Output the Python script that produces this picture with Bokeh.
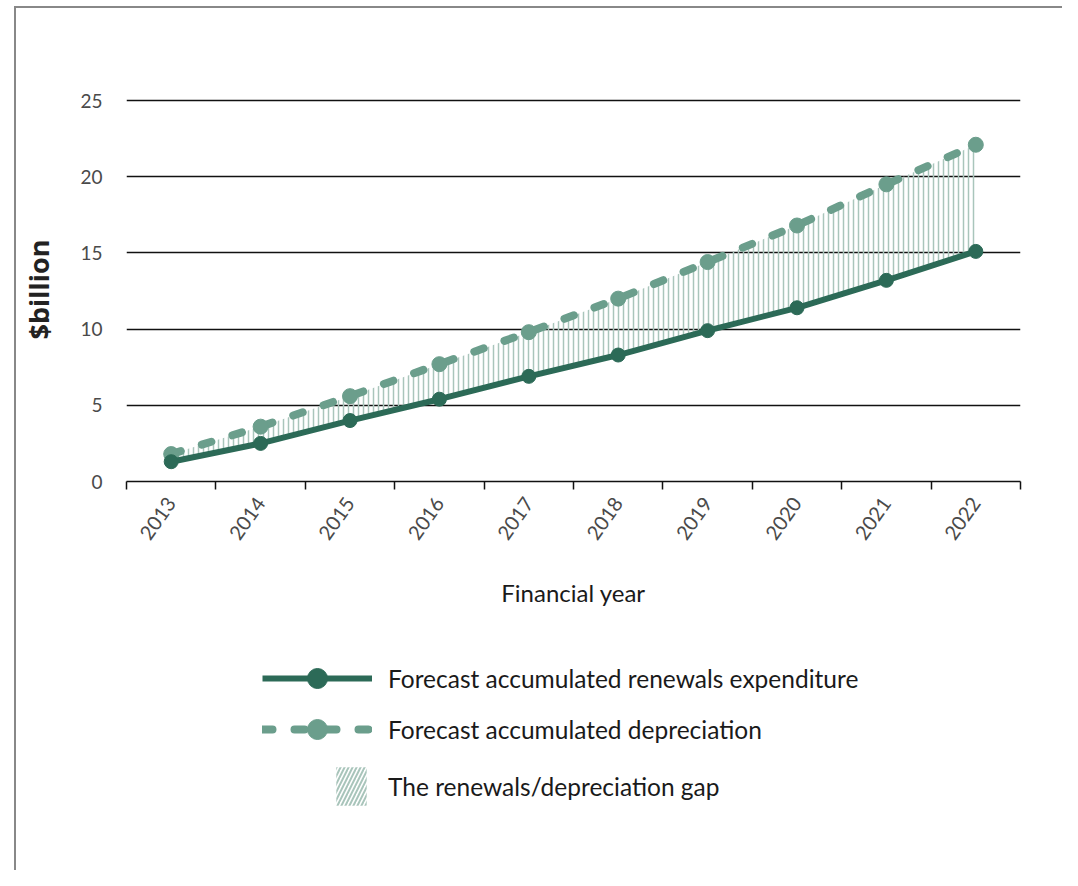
from math import pi
from bokeh.plotting import figure
from bokeh.layouts import column
from bokeh.models import ColumnDataSource, FixedTicker, Legend, LegendItem, Range1d
from bokeh.embed import file_html
from bokeh.resources import INLINE

years = [2013, 2014, 2015, 2016, 2017, 2018, 2019, 2020, 2021, 2022]
renewals = [1.3, 2.5, 4.0, 5.4, 6.9, 8.3, 9.9, 11.4, 13.2, 15.1]
depreciation = [1.8, 3.6, 5.6, 7.7, 9.8, 12.0, 14.4, 16.8, 19.5, 22.1]
y_ticks = [0, 5, 10, 15, 20, 25]

label_renewals = "Forecast accumulated renewals expenditure"
label_depr = "Forecast accumulated depreciation"
label_gap = "The renewals/depreciation gap"

DARK = "#2c6a57"
LIGHT = "#6b9e8c"
HATCH = "#a9c5bb"
FONT = "Lato"

REN_LINE = dict(line_color=DARK, line_width=6)
REN_PTS = dict(fill_color=DARK, line_color=DARK)
DEP_LINE = dict(line_color=LIGHT, line_width=8, line_dash="10 22", line_cap="round")
DEP_PTS = dict(fill_color=LIGHT, line_color=LIGHT)

src = ColumnDataSource(dict(year=years, ren=renewals, dep=depreciation))

p = figure(width=1062, height=640, output_backend="svg", toolbar_location=None,
           x_range=Range1d(2012.5, 2022.5), y_range=Range1d(0, 25.2),
           min_border_left=126, min_border_right=42, min_border_top=97,
           min_border_bottom=159)
p.outline_line_color = None
p.background_fill_color = "white"
p.border_fill_alpha = 0

# gap area
p.varea(x="year", y1="ren", y2="dep", source=src, fill_color=None, fill_alpha=0,
        hatch_pattern="|", hatch_color=HATCH, hatch_scale=5, hatch_weight=1.5)

p.line("year", "dep", source=src, **DEP_LINE)
p.scatter("year", "dep", source=src, size=15, **DEP_PTS)
p.line("year", "ren", source=src, **REN_LINE)
p.scatter("year", "ren", source=src, size=14, **REN_PTS)

# axes
p.xgrid.visible = False
p.ygrid.grid_line_color = "#111111"
p.ygrid.grid_line_width = 1.5
p.ygrid.ticker = FixedTicker(ticks=y_ticks)

yax = p.yaxis[0]
yax.ticker = FixedTicker(ticks=y_ticks)
yax.axis_line_color = None
yax.major_tick_line_color = None
yax.minor_tick_line_color = None
yax.major_label_standoff = 18
yax.major_label_text_font = FONT
yax.major_label_text_font_size = "19px"
yax.major_label_text_color = "#4a4a4a"
yax.axis_label = "$billion"
yax.axis_label_text_font = "Open Sans"
yax.axis_label_text_font_style = "bold"
yax.axis_label_text_font_size = "27px"
yax.axis_label_text_color = "#222222"
yax.axis_label_standoff = 20

xax = p.xaxis[0]
xax.ticker = FixedTicker(ticks=years, minor_ticks=[y - 0.5 for y in years] + [years[-1] + 0.5])
xax.axis_line_color = "#111111"
xax.axis_line_width = 1.5
xax.major_tick_line_color = None
xax.major_tick_out = 0
xax.minor_tick_line_color = "#111111"
xax.minor_tick_line_width = 1.5
xax.minor_tick_in = 0
xax.minor_tick_out = 8
xax.major_label_orientation = 55 * pi / 180
xax.major_label_standoff = 10
xax.major_label_text_font = FONT
xax.major_label_text_font_size = "20px"
xax.major_label_text_color = "#4a4a4a"
xax.axis_label = "Financial year"
xax.axis_label_text_font = FONT
xax.axis_label_text_font_style = "normal"
xax.axis_label_text_font_size = "24px"
xax.axis_label_text_color = "#1a1a1a"
xax.axis_label_standoff = 29

# legend figure: its renderers reuse the series data but lie outside its ranges,
# so only their legend glyphs are visible
lg = figure(width=1062, height=230, output_backend="svg", toolbar_location=None,
            x_axis_type=None, y_axis_type=None, x_range=Range1d(0, 1), y_range=Range1d(0, 1),
            min_border=0)
lg.outline_line_color = None
lg.background_fill_alpha = 0
lg.border_fill_alpha = 0
lg.grid.visible = False

l_ren_line = lg.line("year", "ren", source=src, **REN_LINE)
l_ren_pts = lg.scatter("year", "ren", source=src, **REN_PTS)
l_dep_line = lg.line("year", "dep", source=src, **DEP_LINE)
l_dep_pts = lg.scatter("year", "dep", source=src, **DEP_PTS)
l_gap = lg.varea(x="year", y1="ren", y2="dep", source=src, fill_color=None, fill_alpha=0,
                 hatch_pattern="/", hatch_color=HATCH, hatch_scale=8, hatch_weight=2)

leg1 = Legend(items=[LegendItem(label=label_renewals, renderers=[l_ren_line, l_ren_pts]),
                     LegendItem(label=label_depr, renderers=[l_dep_line, l_dep_pts])],
              location=(136, 116), glyph_width=110, glyph_height=50, spacing=1,
              padding=0, margin=0, label_standoff=16,
              border_line_color=None, background_fill_alpha=0,
              label_text_font=FONT, label_text_font_size="24.5px",
              label_text_color="#1a1a1a")
leg2 = Legend(items=[LegendItem(label=label_gap, renderers=[l_gap])],
              location=(206, 60), glyph_width=38, glyph_height=48, spacing=0,
              padding=0, margin=0, label_standoff=18,
              border_line_color=None, background_fill_alpha=0,
              label_text_font=FONT, label_text_font_size="24.5px",
              label_text_color="#1a1a1a")
lg.add_layout(leg1, "center")
lg.add_layout(leg2, "center")

layout = column(p, lg, spacing=0)
layout.styles = {
    "background": "linear-gradient(#888888, #888888) 14px 6px / 1048px 2px no-repeat, "
                  "linear-gradient(#888888, #888888) 14px 6px / 2px 864px no-repeat, white"
}

open("out.html", "w").write(file_html(layout, INLINE))
